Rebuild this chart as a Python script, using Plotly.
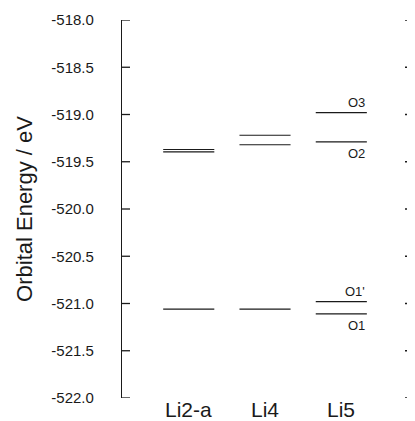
import plotly.graph_objects as go

categories = ["Li2-a", "Li4", "Li5"]
li2a_levels = [-519.37, -519.395, -521.06]
li4_levels = [-519.22, -519.32, -521.06]
li5_levels = [-518.98, -519.29, -520.98, -521.11]
li5_labels = ["O3", "O2", "O1'", "O1"]
li5_label_side = ["above", "below", "above", "below"]
y_tick_vals = [-518.0, -518.5, -519.0, -519.5, -520.0, -520.5, -521.0, -521.5, -522.0]
y_tick_text = ["-518.0", "-518.5", "-519.0", "-519.5", "-520.0", "-520.5", "-521.0", "-521.5", "-522.0"]

half = 0.335
FONT = "Liberation Sans, Arial, sans-serif"
INK = "#1a1a1a"

W, H = 407, 413          # page body has an 8px default margin
ML, MR, MT, MB = 114, 2, 12, 23
plot_w = W - ML - MR
tick_frac = 8 / plot_w

fig = go.Figure()
all_levels = [li2a_levels, li4_levels, li5_levels]
for i, levels in enumerate(all_levels):
    xs, ys = [], []
    for e in levels:
        xs += [i - half, i + half, None]
        ys += [e, e, None]
    fig.add_trace(go.Scatter(x=xs, y=ys, mode="lines",
                             line=dict(color=INK, width=1.1),
                             showlegend=False, hoverinfo="skip"))

for e, lab, side in zip(li5_levels, li5_labels, li5_label_side):
    fig.add_annotation(x=2 + half, y=e, text=lab, showarrow=False,
                       xanchor="right", yanchor="bottom" if side == "above" else "top",
                       yshift=1 if side == "above" else -2,
                       font=dict(family=FONT, size=13, color=INK))

for i, cat in enumerate(categories):
    fig.add_annotation(x=i, y=0, xref="x", yref="paper", text=cat, showarrow=False,
                       xanchor="center", yanchor="middle", yshift=-11,
                       font=dict(family=FONT, size=21, color=INK))

# inward tick marks on both vertical spines, placed at the axis tick values
for v in y_tick_vals:
    fig.add_shape(type="line", xref="paper", yref="y", x0=0, x1=tick_frac, y0=v, y1=v,
                  line=dict(color=INK, width=1.3), layer="above")
    fig.add_shape(type="line", xref="paper", yref="y", x0=1 - tick_frac, x1=1, y0=v, y1=v,
                  line=dict(color=INK, width=1.3), layer="above")

fig.update_layout(
    width=W, height=H,
    margin=dict(l=ML, r=MR, t=MT, b=MB),
    plot_bgcolor="white", paper_bgcolor="white",
    font=dict(family=FONT, color=INK),
    xaxis=dict(range=[-0.875, 2.94], showticklabels=False,
               showline=False, showgrid=False, zeroline=False, ticks=""),
    yaxis=dict(range=[-522, -518], tickvals=y_tick_vals, ticktext=y_tick_text,
               showline=True, linecolor=INK, linewidth=1.2, mirror=True,
               ticks="", showgrid=False, zeroline=False,
               ticklabelstandoff=24, automargin=True,
               tickfont=dict(size=15, family=FONT),
               title=dict(text="Orbital Energy / eV", font=dict(size=22, family=FONT),
                          standoff=12)),
)

fig.write_html("out.html")
